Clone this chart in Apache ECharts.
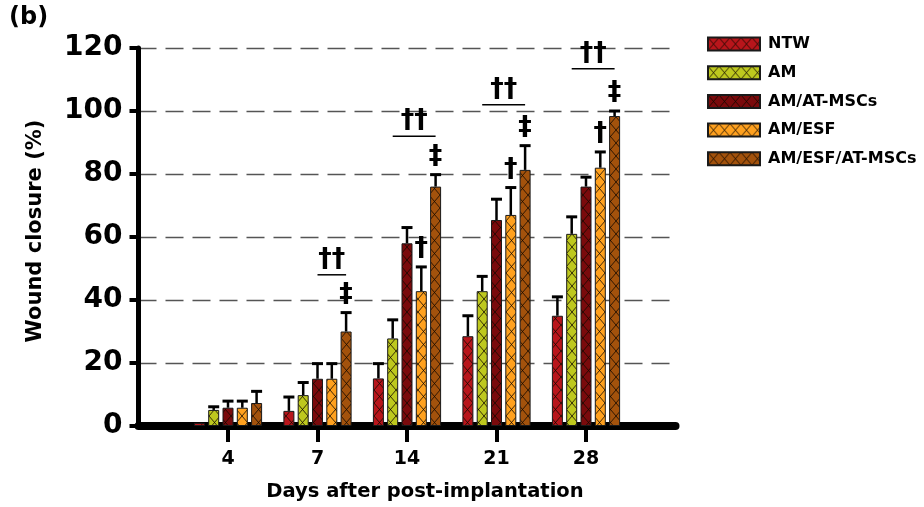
<!DOCTYPE html>
<html>
<head>
<meta charset="utf-8">
<script src="https://cdn.jsdelivr.net/npm/echarts@6/dist/echarts.min.js"></script>
<style>
  html, body { margin: 0; padding: 0; background: #fff; }
  #chart { width: 924px; height: 507px; }
</style>
</head>
<body>
<div id="chart"></div>
<script>
// 数据 ----------------------------------
var days = ['4', '7', '14', '21', '28'];
var groups = ['NTW', 'AM', 'AM/AT-MSCs', 'AM/ESF', 'AM/ESF/AT-MSCs'];
var colors = ['#B8151B', '#BEC81E', '#7A0A0C', '#FFA11F', '#A3520C'];

var ntw      = [1, 4.8, 15.1, 28.5, 35];
var am       = [5.1, 9.8, 27.8, 42.8, 61];
var amAt     = [5.8, 15, 58, 65.4, 76];
var amEsf    = [5.8, 15, 42.8, 67, 82];
var amEsfAt  = [7.3, 30, 76, 81.3, 98.4];

var ntwErr     = [0, 4.4, 4.7, 6.5, 6];
var amErr      = [1, 4, 5.9, 4.7, 5.4];
var amAtErr    = [2.1, 4.8, 5, 6.6, 3];
var amEsfErr   = [2.1, 4.8, 7.7, 8.7, 5];
var amEsfAtErr = [3.7, 6, 3.8, 7.7, 1.6];

// 显著性标记
var markEsf   = ['', '', '†', '†', '†'];      // 标在 AM/ESF 上
var markCombo = ['', '‡', '‡', '‡', '‡'];     // 标在 AM/ESF/AT-MSCs 上
var markPair  = ['', '††', '††', '††', '††']; // 横线上方
var pairLevel = [null, 48, 92, 102, 113.4];
var pairFrom  = [null, 2, 1, 1, 1];

var yTicks = [0, 20, 40, 60, 80, 100, 120];

var values = [ntw, am, amAt, amEsf, amEsfAt];
var errs = [ntwErr, amErr, amAtErr, amEsfErr, amEsfAtErr];

// 坐标轴两端留空类目
var cats = [''].concat(days).concat([' ']);

var FONT = "'DejaVu Sans', sans-serif";
var BAR_W = 11;
var PITCH = 14.3;

//网格填充
function hatch(color) {
    var c = document.createElement('canvas');
    c.width = 11; c.height = 13;
    var g = c.getContext('2d');
    g.fillStyle = color;
    g.fillRect(0, 0, 11, 13);
    g.strokeStyle = 'rgba(20,10,0,0.8)';
    g.lineWidth = 1;
    g.beginPath();
    g.moveTo(0, 0); g.lineTo(11, 13);
    g.moveTo(11, 0); g.lineTo(0, 13);
    g.stroke();
    return c;
}

var series = [];
groups.forEach(function (name, k) {
    series.push({
        name: name,
        type: 'bar',
        barWidth: BAR_W,
        barGap: '30%',
        itemStyle: {
            color: { image: hatch(colors[k]), repeat: 'repeat' },
            borderColor: '#1a1a1a',
            borderWidth: 1
        },
        z: 3,
        data: values[k].map(function (v, i) { return [i + 1, v]; })
    });
});

// 误差线
var errData = [];
values.forEach(function (arr, k) {
    arr.forEach(function (v, i) {
        errData.push([i + 1, v, errs[k][i], k]);
    });
});
series.push({
    type: 'custom',
    name: 'err',
    z: 4,
    data: errData,
    renderItem: function (params, api) {
        var e = api.value(2);
        if (!e) return null;
        var dx = (api.value(3) - 2) * PITCH;
        var p0 = api.coord([api.value(0), api.value(1)]);
        var p1 = api.coord([api.value(0), api.value(1) + e]);
        var x = p0[0] + dx;
        return {
            type: 'group',
            children: [
                { type: 'line', shape: { x1: x, y1: p0[1], x2: x, y2: p1[1] }, style: { stroke: '#000', lineWidth: 2.5 } },
                { type: 'line', shape: { x1: x - 5.5, y1: p1[1], x2: x + 5.5, y2: p1[1] }, style: { stroke: '#000', lineWidth: 3 } }
            ]
        };
    }
});

// 显著性标记
series.push({
    type: 'custom',
    name: 'marks',
    z: 5,
    data: days.map(function (d, i) { return [i + 1, 0]; }),
    renderItem: function (params, api) {
        var i = params.dataIndex;
        var kids = [];
        var x0 = api.coord([i + 1, 0])[0];
        var txt = function (s, x, y) {
            return { type: 'text', x: x, y: y, style: { text: s, fill: '#000', font: 'bold 27px ' + FONT, align: 'center', verticalAlign: 'middle' } };
        };
        if (markEsf[i]) {
            var top3 = api.coord([i + 1, amEsf[i] + amEsfErr[i]]);
            kids.push(txt(markEsf[i], x0 + PITCH, top3[1] - 18));
        }
        if (markCombo[i]) {
            var top4 = api.coord([i + 1, amEsfAt[i] + amEsfAtErr[i]]);
            kids.push(txt(markCombo[i], x0 + 2 * PITCH, top4[1] - 18));
        }
        if (markPair[i]) {
            var ly = api.coord([i + 1, pairLevel[i]])[1];
            var xa = x0 + (pairFrom[i] - 2) * PITCH;
            var xb = x0 + 2 * PITCH;
            kids.push({ type: 'line', shape: { x1: xa, y1: ly, x2: xb, y2: ly }, style: { stroke: '#000', lineWidth: 1.5 } });
            kids.push(txt(markPair[i], (xa + xb) / 2, ly - 15));
        }
        return { type: 'group', children: kids };
    }
});

var chart = echarts.init(document.getElementById('chart'));
chart.setOption({
    backgroundColor: '#fff',
    animation: false,
    grid: { left: 138.5, right: 248.5, top: 48, bottom: 73.5 },
    legend: {
        data: groups,
        icon: 'rect',
        orient: 'vertical',
        left: 702,
        top: 31,
        itemWidth: 52,
        itemHeight: 13,
        itemGap: 12.7,
        textStyle: { fontFamily: FONT, fontWeight: 'bold', fontSize: 16, color: '#000', padding: [0, 0, 0, 3] }
    },
    graphic: [
        { type: 'text', left: 9, top: 6, style: { text: '(b)', font: 'bold 24px ' + FONT, fill: '#000' } }
    ],
    xAxis: {
        type: 'category',
        data: cats,
        boundaryGap: false,
        name: 'Days after post-implantation',
        nameLocation: 'middle',
        nameGap: 56,
        nameTextStyle: { fontFamily: FONT, fontWeight: 'bold', fontSize: 19.5, color: '#000', padding: [0, 0, 0, 36] },
        axisLine: { lineStyle: { color: '#000', width: 8, cap: 'round' } },
        axisTick: {
            length: 16,
            lineStyle: { color: '#000', width: 4 },
            interval: function (idx, v) { return v.trim() !== ''; }
        },
        axisLabel: { interval: 0, margin: 24, fontFamily: FONT, fontWeight: 'bold', fontSize: 19, color: '#000' },
        splitLine: { show: false }
    },
    yAxis: {
        type: 'value',
        min: yTicks[0],
        max: yTicks[yTicks.length - 1],
        interval: yTicks[1] - yTicks[0],
        name: 'Wound closure (%)',
        nameLocation: 'middle',
        nameGap: 92,
        nameRotate: 90,
        nameTextStyle: { fontFamily: FONT, fontWeight: 'bold', fontSize: 21, color: '#000', padding: [0, 0, 0, 12] },
        axisLine: { show: true, lineStyle: { color: '#000', width: 5 } },
        axisTick: { show: true, length: 9, lineStyle: { color: '#000', width: 4 } },
        axisLabel: { margin: 16, fontFamily: FONT, fontWeight: 'bold', fontSize: 28, color: '#000' },
        splitLine: { show: true, lineStyle: { color: '#555', width: 1.3, type: [18, 9] } }
    },
    series: series
});
</script>
</body>
</html>
